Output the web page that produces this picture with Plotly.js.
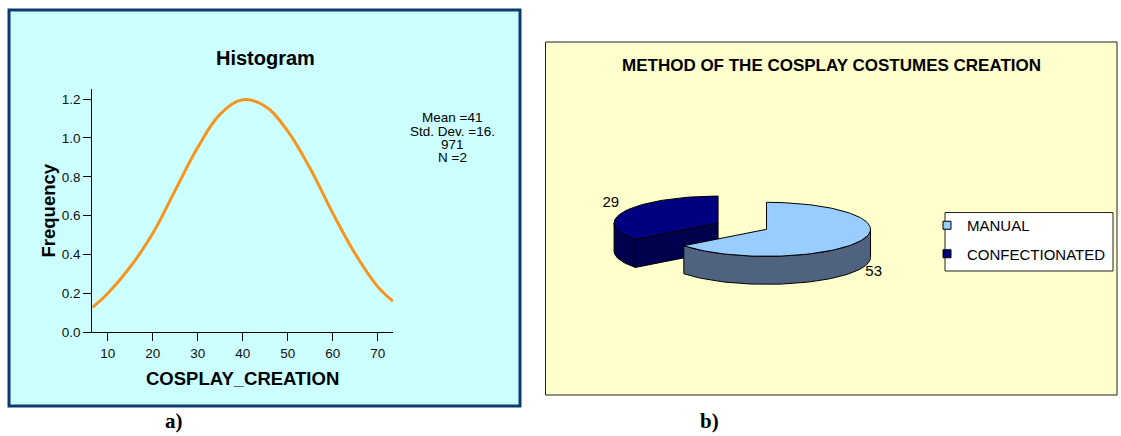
<!DOCTYPE html>
<html>
<head>
<meta charset="utf-8">
<script src="https://cdn.plot.ly/plotly-3.0.1.min.js"></script>
<style>
  html, body { margin: 0; padding: 0; background: #ffffff; }
  #chart { width: 1121px; height: 436px; }
</style>
</head>
<body>
<div id="chart"></div>
<script>
// ---------- Data (a): Histogram normal curve of COSPLAY_CREATION ----------
const creationX   = [6.6, 10, 15, 20, 25, 30, 35, 40, 45, 50, 55, 60, 65, 70, 73.4];
const frequencyY  = [0.128, 0.2, 0.336, 0.508, 0.73, 0.95, 1.122, 1.196, 1.163, 1.035, 0.842, 0.614, 0.404, 0.235, 0.16];
const xTickVals   = [10, 20, 30, 40, 50, 60, 70];
const yTickVals   = [0, 0.2, 0.4, 0.6, 0.8, 1.0, 1.2];
const statLines   = ['Mean =41', 'Std. Dev. =16.', '971', 'N =2'];

// ---------- Data (b): Method of the cosplay costumes creation ----------
const methodLabels = ['MANUAL', 'CONFECTIONATED'];
const methodValues = [53, 29];

// ---------- Styles ----------
const W = 1121, H = 436;
const SANS = 'Arial, "Liberation Sans", sans-serif';
const SERIF = '"Times New Roman", "Liberation Serif", serif';
const topColors  = ['#99CCFF', '#000080'];
const sideColors = ['#4F6380', '#00004E'];
const px = v => v / W;
const py = v => 1 - v / H;

const traces = [];

// Normal curve
traces.push({
  type: 'scatter', mode: 'lines',
  x: creationX, y: frequencyY,
  line: { color: '#F7941E', width: 3, shape: 'spline', smoothing: 1.1 },
  xaxis: 'x', yaxis: 'y', showlegend: false, hoverinfo: 'x+y'
});

// ---------- 3D exploded pie built from methodValues ----------
const pie = { cx: 742.3, cy: 226.2, rx: 104, ry: 27, depth: 28, explode: 0.26 };
const rad = d => d * Math.PI / 180;
const total = methodValues.reduce((a, b) => a + b, 0);
let start = 90;
const slices = methodValues.map((v, i) => {
  const sweep = v / total * 360;
  const a1 = start, a0 = start - sweep;
  start = a0;
  const mid = (a0 + a1) / 2;
  const c = {
    x: pie.cx + pie.explode * pie.rx * Math.cos(rad(mid)),
    y: pie.cy - pie.explode * pie.ry * Math.sin(rad(mid))
  };
  return { i, a0, a1, mid, c };
});
const P = (c, t, z) => [c.x + pie.rx * Math.cos(rad(t)), c.y - pie.ry * Math.sin(rad(t)) + z];
function arc(c, t0, t1, z) {
  const n = Math.max(2, Math.ceil(Math.abs(t1 - t0) / 2));
  const pts = [];
  for (let k = 0; k <= n; k++) pts.push(P(c, t0 + (t1 - t0) * k / n, z));
  return pts;
}
function poly(pts, color) {
  traces.push({
    type: 'scatter', mode: 'lines', fill: 'toself',
    x: pts.map(p => p[0]), y: pts.map(p => p[1]),
    fillcolor: color, line: { color: '#000000', width: 1 },
    xaxis: 'x2', yaxis: 'y2', showlegend: false, hoverinfo: 'skip'
  });
}
// back slices first (smaller centre y)
const order = slices.slice().sort((a, b) => a.c.y - b.c.y);
order.forEach(s => {
  // outer side, front half only (angles where sin < 0)
  for (let k = -2; k <= 1; k++) {
    const f0 = k * 360 + 180, f1 = k * 360 + 360;
    const s0 = Math.max(s.a0, f0), s1 = Math.min(s.a1, f1);
    if (s1 > s0) {
      const topArc = arc(s.c, s0, s1, 0);
      const botArc = arc(s.c, s1, s0, pie.depth);
      poly(topArc.concat(botArc, [topArc[0]]), sideColors[s.i]);
    }
  }
  // cut faces
  const cut = t => {
    const ct = [s.c.x, s.c.y], cb = [s.c.x, s.c.y + pie.depth];
    poly([ct, P(s.c, t, 0), P(s.c, t, pie.depth), cb, ct], sideColors[s.i]);
  };
  if (Math.cos(rad(s.a0)) > 1e-6) cut(s.a0);
  if (Math.cos(rad(s.a1)) < -1e-6) cut(s.a1);
  // top face
  const top = [[s.c.x, s.c.y]].concat(arc(s.c, s.a0, s.a1, 0), [[s.c.x, s.c.y]]);
  poly(top, topColors[s.i]);
});

// value labels
traces.push({
  type: 'scatter', mode: 'text',
  x: slices.map(s => s.c.x + 1.15 * pie.rx * Math.cos(rad(s.mid))),
  y: slices.map(s => {
    const sn = Math.sin(rad(s.mid));
    return s.c.y - 1.15 * pie.ry * sn + (sn < 0 ? pie.depth * 1.05 : -6);
  }),
  text: methodValues.map(String),
  textposition: 'middle center',
  textfont: { family: SANS, size: 15, color: '#000000' },
  xaxis: 'x2', yaxis: 'y2', showlegend: false, hoverinfo: 'skip', cliponaxis: false
});

// legend entries
methodLabels.forEach((lab, i) => {
  traces.push({
    type: 'scatter', mode: 'markers', x: [null], y: [null], name: lab,
    legendgroup: 'g' + i,
    marker: { symbol: 'square', size: 8, color: topColors[i], line: { color: '#000000', width: 1 } },
    xaxis: 'x2', yaxis: 'y2', hoverinfo: 'skip'
  });
});

// ---------- Layout ----------
const shapes = [
  { type: 'rect', xref: 'paper', yref: 'paper', x0: px(9), x1: px(520), y0: py(406), y1: py(10),
    fillcolor: '#CCFFFF', line: { color: '#0B3A6E', width: 3 }, layer: 'below' },
  { type: 'rect', xref: 'paper', yref: 'paper', x0: px(545.5), x1: px(1117), y0: py(395), y1: py(42),
    fillcolor: '#FFFFCC', line: { color: '#222222', width: 1 }, layer: 'below' },
  { type: 'rect', xref: 'paper', yref: 'paper', x0: px(945), x1: px(1113), y0: py(271), y1: py(212.5),
    fillcolor: '#FFFFFF', line: { color: '#222222', width: 1 }, layer: 'below' }
];

const ann = (text, x, y, opts) => Object.assign({
  text, xref: 'paper', yref: 'paper', x: px(x), y: py(y),
  xanchor: 'center', yanchor: 'middle', showarrow: false,
  font: { family: SANS, size: 14, color: '#000000' }
}, opts || {});

const statY = [117.5, 131.5, 145, 158];
const annotations = [
  ann('<b>Histogram</b>', 265, 58, { font: { family: SANS, size: 20, color: '#000' } }),
  ann('<b>Frequency</b>', 47.5, 211, { textangle: -90, font: { family: SANS, size: 18.5, color: '#000' } }),
  ann('<b>COSPLAY_CREATION</b>', 242.5, 378.5, { font: { family: SANS, size: 18.5, color: '#000' } }),
  ...statLines.map((t, i) => ann(t, 452, statY[i], { font: { family: SANS, size: 13.5, color: '#000' } })),
  ann('<b>METHOD OF THE COSPLAY COSTUMES CREATION</b>', 831, 66, { font: { family: SANS, size: 17, color: '#000' } }),
  ann('<b>a)</b>', 174, 421, { font: { family: SERIF, size: 21, color: '#000' } }),
  ann('<b>b)</b>', 709, 421, { font: { family: SERIF, size: 21, color: '#000' } })
];

const axisFont = { family: SANS, size: 13.5, color: '#111111' };
const layout = {
  width: W, height: H,
  margin: { l: 0, r: 0, t: 0, b: 0, pad: 0 },
  paper_bgcolor: '#FFFFFF', plot_bgcolor: 'rgba(0,0,0,0)',
  showlegend: true,
  xaxis: {
    domain: [px(92.3), px(393.3)], range: [6.58, 73.47], anchor: 'y',
    showline: true, linecolor: '#000', linewidth: 1, showgrid: false, zeroline: false,
    ticks: 'outside', ticklen: 8, tickcolor: '#000', tickwidth: 1,
    tickvals: xTickVals, tickfont: axisFont, fixedrange: true
  },
  yaxis: {
    domain: [py(332.3), py(88.5)], range: [0, 1.254], anchor: 'x',
    showline: true, linecolor: '#000', linewidth: 1, showgrid: false, zeroline: false,
    ticks: 'outside', ticklen: 8, tickcolor: '#000', tickwidth: 1,
    tickvals: yTickVals, tickformat: '.1f', tickfont: axisFont, fixedrange: true
  },
  xaxis2: { domain: [0, 1], range: [0, W], anchor: 'y2', visible: false, fixedrange: true },
  yaxis2: { domain: [0, 1], range: [H, 0], anchor: 'x2', visible: false, fixedrange: true },
  legend: {
    x: px(927), y: py(209), xanchor: 'left', yanchor: 'top',
    bgcolor: 'rgba(0,0,0,0)', borderwidth: 0,
    font: { family: SANS, size: 15, color: '#000' },
    itemwidth: 30, tracegroupgap: 6, traceorder: 'grouped'
  },
  shapes, annotations
};

Plotly.newPlot('chart', traces, layout, { staticPlot: true, displayModeBar: false });
</script>
</body>
</html>
